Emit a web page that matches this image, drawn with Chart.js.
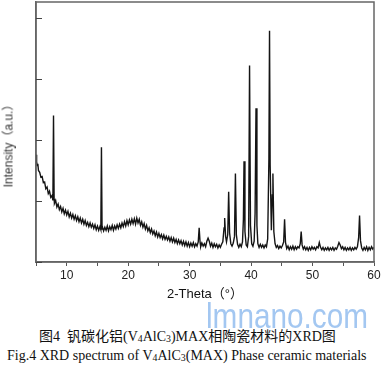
<!DOCTYPE html>
<html>
<head>
<meta charset="utf-8">
<script src="https://cdn.jsdelivr.net/npm/chart.js@4.4.1/dist/chart.umd.min.js"></script>
<style>
  html, body { margin: 0; padding: 0; background: #fff; }
  body { width: 384px; height: 368px; position: relative; overflow: hidden; }
  #wrap { position: absolute; left: 0; top: 0; width: 384px; height: 304px; }
  #ytitle { position: absolute; left: 7px; top: 143px; transform: translate(-50%, -50%) rotate(-90deg);
            white-space: nowrap; font: 12px "Liberation Sans", Arial, "Noto Sans CJK SC", sans-serif; color: #333; }
  .cap { position: absolute; white-space: nowrap; font-family: "Liberation Serif", "Times New Roman", "Noto Sans CJK SC", serif; color: #111; }
  .cap sub { font-size: 0.7em; vertical-align: -0.15em; line-height: 0; }
  #cap1 { left: 39px; top: 325px; font-size: 14px; }
  #cap2 { left: 7px; top: 348px; font-size: 14px; }
  #wm { position: absolute; left: 206px; top: 296px; font: 35px "Liberation Sans", Arial, sans-serif; color: rgba(140,185,238,0.8);
        transform-origin: left top; transform: scaleX(0.85); white-space: nowrap; }
</style>
</head>
<body>
<div id="wrap"><canvas id="c" width="384" height="304"></canvas></div>
<div id="ytitle">Intensity（a.u.）</div>
<div class="cap" id="cap1">图4&nbsp; 钒碳化铝(V<sub>4</sub>AlC<sub>3</sub>)MAX相陶瓷材料的XRD图</div>
<div class="cap" id="cap2">Fig.4 XRD spectrum of V<sub>4</sub>AlC<sub>3</sub>(MAX) Phase ceramic materials</div>
<div id="wm">lmnano.com</div>
<script>
const twoTheta = [
5.0,5.1,5.2,5.3,5.4,5.6,5.8,6.0,6.2,6.4,6.6,6.8,7.0,7.2,7.4,7.6,7.75,7.85,7.95,8.0,8.2,8.4,8.6,8.8,9.0,9.2,9.4,9.6,9.8,
10.0,10.2,10.4,10.6,10.8,11.0,11.2,11.4,11.6,11.8,12.0,12.2,12.4,12.6,12.8,13.0,13.2,13.4,13.6,13.8,14.0,14.2,14.4,14.6,14.8,
15.0,15.2,15.4,15.55,15.65,15.75,15.8,16.0,16.2,16.4,16.6,16.8,17.0,17.2,17.4,17.6,17.8,18.0,18.2,18.4,18.6,18.8,19.0,19.2,19.4,19.6,19.8,
20.0,20.2,20.4,20.6,20.8,21.0,21.2,21.4,21.6,21.8,22.0,22.2,22.4,22.6,22.8,23.0,23.2,23.4,23.6,23.8,24.0,24.2,24.4,24.6,24.8,
25.0,25.2,25.4,25.6,25.8,26.0,26.2,26.4,26.6,26.8,27.0,27.2,27.4,27.6,27.8,28.0,28.2,28.4,28.6,28.8,29.0,29.2,29.4,29.6,29.8,
30.0,30.2,30.4,30.6,30.8,31.0,31.2,31.4,31.55,31.7,31.8,32.0,32.2,32.4,32.6,32.8,33.0,33.2,33.4,33.6,33.8,34.0,34.2,34.4,34.6,34.8,
35.0,35.2,35.4,35.6,35.7,35.85,36.0,36.2,36.35,36.5,36.7,36.9,37.1,37.3,37.45,37.6,37.8,38.0,38.2,38.4,38.6,38.75,38.85,39.0,39.2,39.4,39.6,39.75,39.9,
40.1,40.3,40.5,40.65,40.8,40.95,41.1,41.3,41.5,41.7,41.9,42.1,42.3,42.5,42.7,42.9,43.0,43.1,43.3,43.45,43.55,43.7,43.9,44.1,44.3,44.5,44.7,44.9,
45.1,45.3,45.45,45.6,45.8,46.0,46.2,46.4,46.6,46.8,47.0,47.2,47.4,47.6,47.8,48.0,48.15,48.3,48.5,48.7,48.9,49.1,49.3,49.5,49.7,49.9,
50.1,50.3,50.5,50.7,50.9,51.1,51.3,51.5,51.7,51.9,52.1,52.3,52.5,52.7,52.9,53.1,53.3,53.5,53.7,53.9,54.1,54.3,54.5,54.7,54.9,
55.1,55.3,55.5,55.7,55.9,56.1,56.3,56.5,56.7,56.9,57.1,57.3,57.5,57.65,57.8,58.0,58.2,58.4,58.6,58.8,59.0,59.2,59.4,59.6,59.8,60.0
];
const intensity = [
1760,1640,1580,1610,1500,1470,1390,1400,1300,1310,1200,1230,1120,1160,1060,1090,1010,2400,1030,960,1010,900,950,860,910,820,880,790,850,
770,830,740,800,720,780,700,760,680,740,660,720,640,700,620,680,600,650,580,640,570,620,550,610,530,
590,520,580,530,1880,540,580,510,570,520,590,510,580,530,600,520,590,540,610,550,620,560,640,580,660,590,680,
610,690,620,700,630,710,620,720,640,700,600,660,570,630,540,600,510,560,480,540,460,510,430,490,410,
470,400,450,380,440,370,420,360,410,340,400,330,390,320,370,300,360,300,350,280,340,270,330,260,320,
250,310,260,320,250,300,260,330,560,320,250,310,260,300,250,340,390,340,260,310,240,300,250,290,230,280,
240,290,330,560,720,420,330,450,1150,480,300,260,310,420,1450,450,290,240,290,250,330,700,1650,500,280,250,420,3220,600,
300,260,340,800,2520,600,300,240,290,240,280,230,280,250,380,1700,3790,1600,520,1100,1450,500,300,240,270,220,260,230,
270,330,700,320,220,260,200,250,210,260,200,250,210,250,230,300,500,280,210,250,200,240,190,240,200,250,
210,240,200,250,230,320,240,200,240,190,230,200,240,190,230,200,240,190,230,210,260,320,280,220,250,
200,240,190,230,200,240,190,230,200,240,210,250,400,760,350,230,190,240,200,250,190,240,200,250,210,240
];
const xTickLabels = [10, 20, 30, 40, 50, 60];
const yTickValues = [0, 1000, 2000, 3000, 4000];

const points = twoTheta.map((x, i) => ({ x: x, y: intensity[i] }));

const framePlugin = {
  id: 'frame',
  afterDraw(chart) {
    const { ctx, chartArea: a, scales } = chart;
    ctx.save();
    ctx.strokeStyle = '#666';
    ctx.lineWidth = 1.5;
    ctx.strokeRect(a.left, a.top, a.right - a.left, a.bottom - a.top);
    ctx.lineWidth = 1;
    ctx.strokeStyle = '#444';
    yTickValues.forEach(v => {
      const y = Math.round(scales.y.getPixelForValue(v)) + 0.5;
      ctx.beginPath();
      ctx.moveTo(a.left, y);
      ctx.lineTo(a.left + 6, y);
      ctx.stroke();
    });
    ctx.restore();
  }
};

new Chart(document.getElementById('c'), {
  type: 'line',
  data: {
    datasets: [{
      data: points,
      borderColor: '#141414',
      borderWidth: 1.4,
      pointRadius: 0,
      tension: 0,
      fill: false
    }]
  },
  options: {
    responsive: false,
    animation: false,
    devicePixelRatio: 1,
    layout: { padding: { left: 0, right: 10, top: 2, bottom: 0 } },
    plugins: { legend: { display: false }, tooltip: { enabled: false } },
    scales: {
      x: {
        type: 'linear',
        min: 5, max: 60,
        afterFit: s => { s.height = 42; },
        ticks: {
          stepSize: 5,
          autoSkip: false,
          maxRotation: 0,
          padding: 2,
          color: '#222',
          font: { family: '"Liberation Sans", Arial, sans-serif', size: 12 },
          callback: v => (xTickLabels.includes(v) ? String(v) : '')
        },
        grid: { drawOnChartArea: false, drawTicks: true, tickLength: 4, color: '#555', lineWidth: 1 },
        border: { display: true, color: '#666', width: 1.5 },
        title: {
          display: true,
          text: '2-Theta（°）',
          color: '#111',
          font: { family: '"Liberation Sans", Arial, "Noto Sans CJK SC", sans-serif', size: 13 },
          padding: { top: 0, bottom: 2 }
        }
      },
      y: {
        min: 0, max: 4262,
        afterFit: s => { s.width = 36; },
        ticks: { display: false, stepSize: 1000 },
        grid: { drawOnChartArea: false, drawTicks: false },
        border: { display: true, color: '#666', width: 1.5 }
      }
    }
  },
  plugins: [framePlugin]
});
</script>
</body>
</html>
